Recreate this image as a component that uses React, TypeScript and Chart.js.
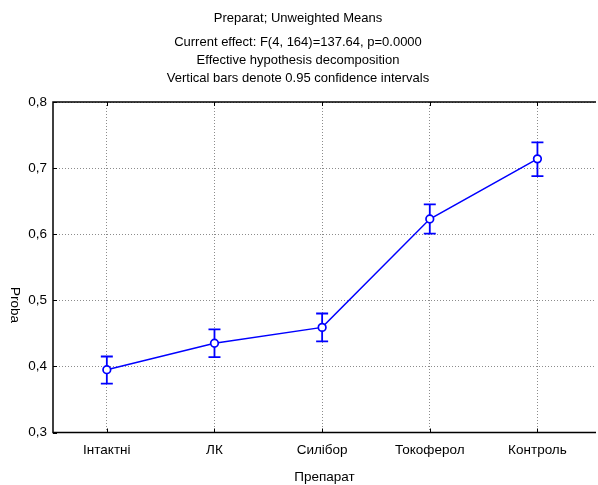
import React, { useEffect, useRef } from 'react';
import { Chart, registerables } from 'chart.js';

Chart.register(...registerables);

const categories = ['Інтактні', 'ЛК', 'Силібор', 'Токоферол', 'Контроль'];
const means = [0.395, 0.435, 0.459, 0.623, 0.714];
const lowerCI = [0.374, 0.414, 0.438, 0.601, 0.688];
const upperCI = [0.415, 0.456, 0.48, 0.645, 0.739];
const yTicks = [0.3, 0.4, 0.5, 0.6, 0.7, 0.8];
const titleLines = ['Preparat; Unweighted Means'];
const subtitleLines = [
  'Current effect: F(4, 164)=137.64, p=0.0000',
  'Effective hypothesis decomposition',
  'Vertical bars denote 0.95 confidence intervals',
];
const xTitle = 'Препарат';
const yTitle = 'Proba';

const FONT = "'Liberation Sans', Arial, sans-serif";
const BLUE = '#0000ff';

const errorBarsPlugin = {
  id: 'errorBars',
  beforeDatasetsDraw(chart: any) {
    const { ctx, scales } = chart;
    const x = scales.x;
    const y = scales.y;
    ctx.save();
    ctx.strokeStyle = BLUE;
    ctx.lineWidth = 1.8;
    for (let i = 0; i < categories.length; i++) {
      const px = x.getPixelForValue(i);
      const yl = y.getPixelForValue(lowerCI[i]);
      const yu = y.getPixelForValue(upperCI[i]);
      ctx.beginPath();
      ctx.moveTo(px, yl);
      ctx.lineTo(px, yu);
      ctx.moveTo(px - 6, yl);
      ctx.lineTo(px + 6, yl);
      ctx.moveTo(px - 6, yu);
      ctx.lineTo(px + 6, yu);
      ctx.stroke();
    }
    ctx.restore();
  },
};

const framePlugin = {
  id: 'frame',
  beforeDatasetsDraw(chart: any) {
    const { ctx, chartArea, scales } = chart;
    const { left, right, top, bottom } = chartArea;
    ctx.save();
    ctx.strokeStyle = '#000';
    ctx.lineWidth = 1.5;
    ctx.beginPath();
    ctx.moveTo(right, top);
    ctx.lineTo(left, top);
    ctx.lineTo(left, bottom);
    ctx.lineTo(right, bottom);
    ctx.stroke();
    ctx.lineWidth = 1;
    ctx.beginPath();
    for (let i = 0; i < categories.length; i++) {
      const px = Math.round(scales.x.getPixelForValue(i)) + 0.5;
      ctx.moveTo(px, top);
      ctx.lineTo(px, top + 4);
      ctx.moveTo(px, bottom);
      ctx.lineTo(px, bottom - 4);
    }
    for (const v of yTicks) {
      const py = Math.round(scales.y.getPixelForValue(v)) + 0.5;
      ctx.moveTo(left, py);
      ctx.lineTo(left + 4, py);
    }
    ctx.stroke();
    ctx.restore();
  },
  afterDraw(chart: any) {
    const { ctx } = chart;
    ctx.save();
    ctx.fillStyle = '#000';
    ctx.font = `13.5px ${FONT}`;
    ctx.textAlign = 'center';
    ctx.textBaseline = 'middle';
    ctx.translate(15, 305);
    ctx.rotate(Math.PI / 2);
    ctx.fillText(yTitle, 0, 0);
    ctx.restore();
  },
};

export default function App() {
  const canvasRef = useRef<HTMLCanvasElement | null>(null);

  useEffect(() => {
    if (!canvasRef.current) return;
    Chart.defaults.font.family = FONT;
    Chart.defaults.color = '#000';
    const chart = new Chart(canvasRef.current, {
      type: 'line',
      data: {
        datasets: [
          {
            data: means.map((m, i) => ({ x: i, y: m })),
            borderColor: BLUE,
            borderWidth: 1.5,
            pointRadius: 3.8,
            pointBackgroundColor: '#ffffff',
            pointBorderColor: BLUE,
            pointBorderWidth: 1.7,
            tension: 0,
          },
        ],
      },
      options: {
        responsive: false,
        animation: false,
        devicePixelRatio: 1,
        layout: { autoPadding: false, padding: { top: 0, left: 0, right: 2, bottom: 0 } },
        plugins: {
          legend: { display: false },
          tooltip: { enabled: false },
          title: {
            display: true,
            text: titleLines,
            color: '#000',
            font: { size: 13, weight: 'normal', family: FONT, lineHeight: 1.2 },
            padding: { top: 11, bottom: 6.4 },
          },
          subtitle: {
            display: true,
            text: subtitleLines,
            color: '#000',
            font: { size: 13, weight: 'normal', family: FONT, lineHeight: 18 / 13 },
            padding: { top: 0, bottom: 15 },
          },
        },
        scales: {
          x: {
            type: 'linear',
            min: -0.5,
            max: 4.544,
            afterBuildTicks: (s: any) => {
              s.ticks = categories.map((_, i) => ({ value: i }));
            },
            afterFit: (s: any) => {
              s.height = 52.5;
            },
            ticks: {
              padding: 10,
              autoSkip: false,
              maxRotation: 0,
              font: { size: 13.5, family: FONT },
              color: '#000',
              callback: (v: any) => categories[v as number] ?? '',
            },
            grid: { color: '#8c8c8c', lineWidth: 1, drawTicks: false },
            border: { display: false, dash: [1, 2] },
            title: {
              display: true,
              text: xTitle,
              color: '#000',
              font: { size: 13.5, family: FONT },
              padding: { top: 0, bottom: 0 },
            },
          },
          y: {
            min: 0.3,
            max: 0.8,
            afterBuildTicks: (s: any) => {
              s.ticks = yTicks.map((v) => ({ value: v }));
            },
            afterFit: (s: any) => {
              s.width = 53;
            },
            ticks: {
              padding: 6,
              font: { size: 13.5, family: FONT },
              color: '#000',
              callback: (v: any) => Number(v).toFixed(1).replace('.', ','),
            },
            grid: { color: '#8c8c8c', lineWidth: 1, drawTicks: false },
            border: { display: false, dash: [1, 2] },
          },
        },
      },
      plugins: [errorBarsPlugin, framePlugin],
    } as any);
    return () => chart.destroy();
  }, []);

  return (
    <div style={{ position: 'absolute', left: 0, top: 0, width: 598, height: 485, background: '#fff' }}>
      <canvas ref={canvasRef} width={598} height={485} style={{ display: 'block' }} />
    </div>
  );
}
